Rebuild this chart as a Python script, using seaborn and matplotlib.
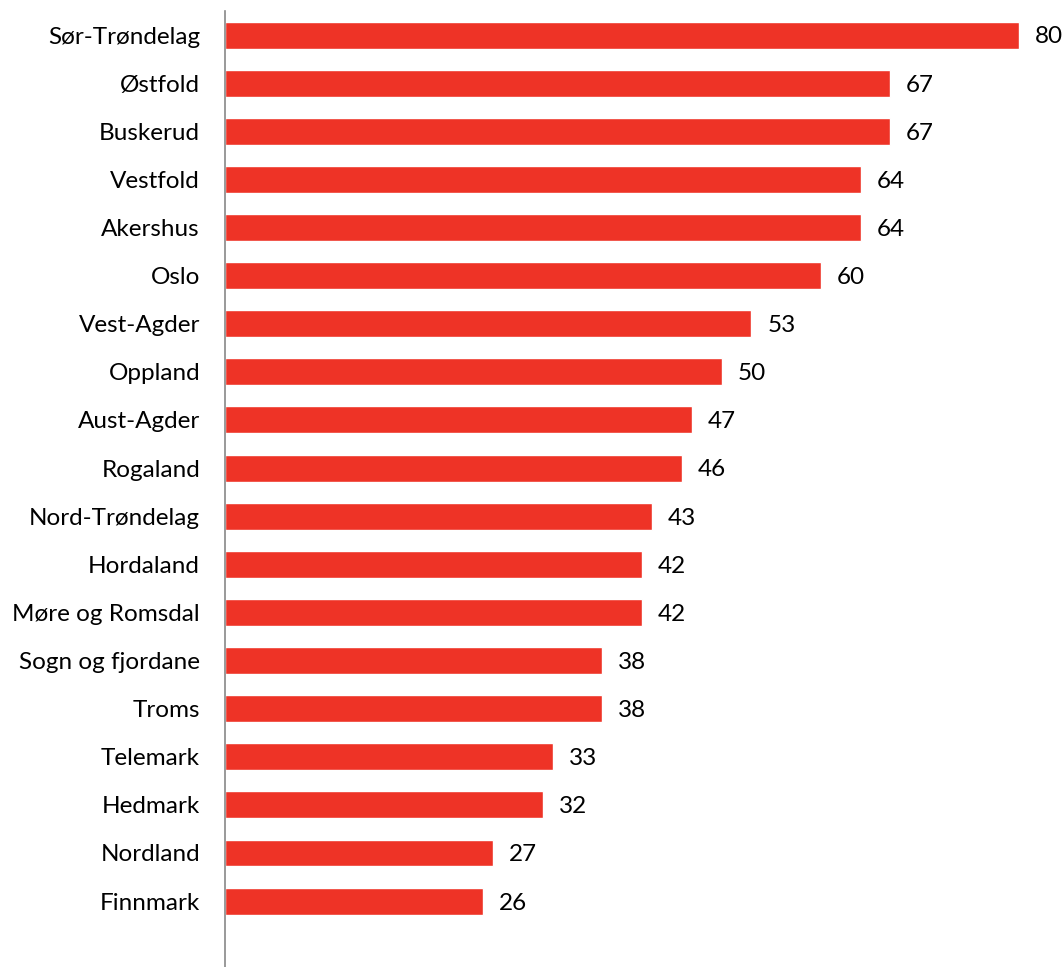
import matplotlib
matplotlib.use("Agg")
import matplotlib.pyplot as plt
import seaborn as sns
import pandas as pd

regions = ["Sør-Trøndelag", "Østfold", "Buskerud", "Vestfold", "Akershus", "Oslo",
           "Vest-Agder", "Oppland", "Aust-Agder", "Rogaland", "Nord-Trøndelag",
           "Hordaland", "Møre og Romsdal", "Sogn og fjordane", "Troms", "Telemark",
           "Hedmark", "Nordland", "Finnmark"]
values = [80, 67, 67, 64, 64, 60, 53, 50, 47, 46, 43, 42, 42, 38, 38, 33, 32, 27, 26]

df = pd.DataFrame({"region": regions, "value": values})

sns.set_theme(style="white")
plt.rcParams['font.family'] = ['Lato', 'DejaVu Sans']

W, H = 1063, 967
fig = plt.figure(figsize=(W / 100, H / 100), dpi=100)
ax = fig.add_axes([225 / W, 0, 1 - 225 / W, 1 - 11 / H])

sns.barplot(data=df, x="value", y="region", orient="h", color="#EE3326",
            saturation=1, width=0.56, ax=ax)

ax.set_xlim(0, 838 / 9.93)
ax.set_ylim(18 + 1.37, -0.5)

for i, v in enumerate(values):
    ax.text(v + 1.6, i + 0.04, f"{v}", va="center", ha="left", fontsize=17.5, color="black")

ax.set_xlabel("")
ax.set_ylabel("")
ax.set_xticks([])
ax.tick_params(axis="y", length=0, pad=18, labelsize=17.5, labelcolor="black")
for s in ["top", "right", "bottom"]:
    ax.spines[s].set_visible(False)
ax.spines["left"].set_color("#888888")
ax.spines["left"].set_linewidth(1.2)

fig.savefig("out.png", dpi=100)
